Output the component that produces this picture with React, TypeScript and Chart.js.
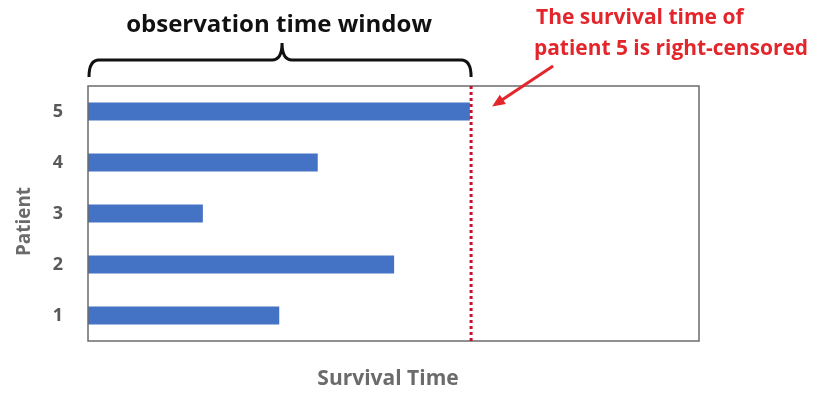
import React, { useEffect, useRef } from "react";
import { Chart, registerables } from "chart.js";

Chart.register(...registerables);

const patients = ["1", "2", "3", "4", "5"];
const survivalTimes = [3.13, 5.01, 1.88, 3.76, 6.25];
const censorTime = 6.27;
const xMin = 0;
const xMax = 10;
const windowLabel = "observation time window";
const noteLines = ["The survival time of", "patient 5 is right-censored"];
const xTitle = "Survival Time";
const yTitle = "Patient";

const FONT = "'Open Sans', Lato, sans-serif";

const overlay = {
  id: "overlay",
  afterDatasetsDraw(chart: any) {
    const { ctx, chartArea, scales } = chart;
    const x = scales.x;
    const y = scales.y;
    const cx = x.getPixelForValue(censorTime);
    ctx.save();
    // box
    ctx.strokeStyle = "#6b6b6b";
    ctx.lineWidth = 1.5;
    ctx.strokeRect(chartArea.left, chartArea.top, chartArea.right - chartArea.left, chartArea.bottom - chartArea.top);
    // dotted censor line
    ctx.strokeStyle = "#c8102e";
    ctx.lineWidth = 3;
    ctx.setLineDash([3, 3]);
    ctx.beginPath();
    ctx.moveTo(cx, chartArea.top);
    ctx.lineTo(cx, chartArea.bottom);
    ctx.stroke();
    ctx.setLineDash([]);
    // brace
    const l = chartArea.left + 1;
    const r = cx;
    const m = (l + r) / 2 + 2;
    const yb = chartArea.top - 9;
    const yl = chartArea.top - 26;
    const yt = chartArea.top - 43;
    ctx.strokeStyle = "#111";
    ctx.lineWidth = 3;
    ctx.beginPath();
    ctx.moveTo(l, yb);
    ctx.quadraticCurveTo(l, yl, l + 10, yl);
    ctx.lineTo(m - 10, yl);
    ctx.quadraticCurveTo(m, yl, m, yt);
    ctx.quadraticCurveTo(m, yl, m + 10, yl);
    ctx.lineTo(r - 10, yl);
    ctx.quadraticCurveTo(r, yl, r, yb);
    ctx.stroke();
    // window label
    ctx.fillStyle = "#111";
    ctx.font = `bold 24px ${FONT}`;
    ctx.textAlign = "center";
    ctx.textBaseline = "middle";
    ctx.fillText(windowLabel, m - 3, 25, 306);
    // note text
    ctx.fillStyle = "#e3262b";
    ctx.font = `bold 21px ${FONT}`;
    ctx.textAlign = "left";
    ctx.fillText(noteLines[0], 536, 18, 208);
    ctx.fillText(noteLines[1], 534, 49, 274);
    // arrow
    const y5 = y.getPixelForValue(4);
    const ax0 = cx + 82, ay0 = chartArea.top - 20;
    const ax1 = cx + 21, ay1 = y5 - 5;
    ctx.strokeStyle = "#e3262b";
    ctx.lineWidth = 3;
    ctx.beginPath();
    ctx.moveTo(ax0, ay0);
    ctx.lineTo(ax1 + 6, ay1 - 4);
    ctx.stroke();
    const ang = Math.atan2(ay1 - ay0, ax1 - ax0);
    const hl = 14;
    ctx.fillStyle = "#e3262b";
    ctx.beginPath();
    ctx.moveTo(ax1, ay1);
    ctx.lineTo(ax1 - hl * Math.cos(ang - 0.4), ay1 - hl * Math.sin(ang - 0.4));
    ctx.lineTo(ax1 - hl * Math.cos(ang + 0.4), ay1 - hl * Math.sin(ang + 0.4));
    ctx.closePath();
    ctx.fill();
    // axis titles
    ctx.fillStyle = "#6b6b6b";
    ctx.font = `bold 21px ${FONT}`;
    ctx.textAlign = "center";
    ctx.fillText(xTitle, 388, 379, 143);
    ctx.save();
    ctx.translate(25, (chartArea.top + chartArea.bottom) / 2 + 8);
    ctx.rotate(-Math.PI / 2);
    ctx.font = `bold 19px ${FONT}`;
    ctx.fillText(yTitle, 0, 0, 69);
    ctx.restore();
    ctx.restore();
  },
};

export default function App() {
  const ref = useRef<HTMLCanvasElement | null>(null);
  useEffect(() => {
    document.body.style.margin = "0";
    const chart = new Chart(ref.current as HTMLCanvasElement, {
      type: "bar",
      data: {
        labels: patients,
        datasets: [
          {
            data: survivalTimes,
            backgroundColor: "#4472c4",
            barPercentage: 0.35,
            categoryPercentage: 1,
          },
        ],
      },
      options: {
        indexAxis: "y",
        animation: false,
        responsive: false,
        layout: { padding: { top: 86, right: 121, bottom: 55, left: 0 } },
        plugins: { legend: { display: false }, tooltip: { enabled: false } },
        scales: {
          x: { min: xMin, max: xMax, display: false },
          y: {
            reverse: true,
            grid: { display: false, drawTicks: false },
            border: { display: false },
            ticks: {
              padding: 25,
              color: "#595959",
              font: { family: FONT, size: 18, weight: "bold" },
            },
            afterFit(scale: any) {
              scale.width = 88;
            },
          },
        },
      },
      plugins: [overlay],
    });
    return () => chart.destroy();
  }, []);
  return <canvas ref={ref} width={820} height={396} style={{ display: "block" }} />;
}
